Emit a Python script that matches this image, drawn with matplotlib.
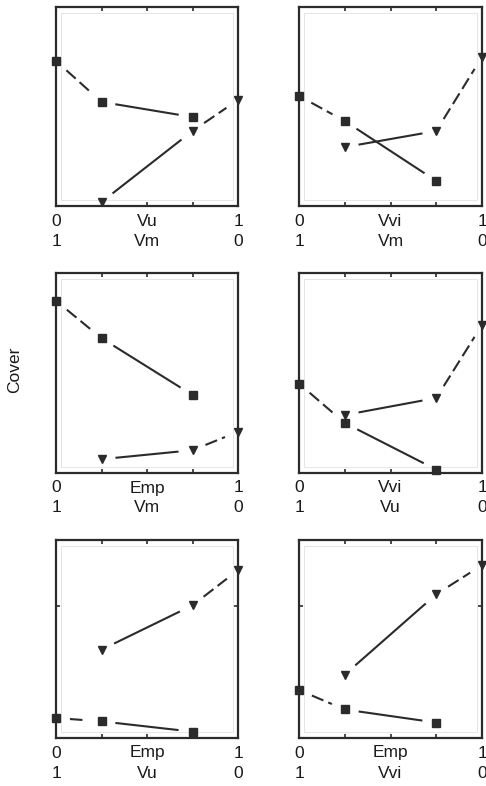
import numpy as np
import matplotlib.pyplot as plt
from matplotlib.patches import Rectangle

plt.rcParams["font.family"] = ["Liberation Sans", "DejaVu Sans"]

# proportions of the two components (x position of each mixture)
x_sq = [0.0, 0.25, 0.75]
x_tri = [0.25, 0.75, 1.0]

# cover of each component, per panel (scaled 0..1)
sq_vals = [
    [0.729, 0.523, 0.447],
    [0.553, 0.427, 0.126],
    [0.861, 0.674, 0.390],
    [0.447, 0.250, 0.017],
    [0.101, 0.084, 0.032],
    [0.242, 0.144, 0.078],
]
tri_vals = [
    [0.020, 0.377, 0.533],
    [0.296, 0.377, 0.749],
    [0.069, 0.114, 0.206],
    [0.290, 0.375, 0.740],
    [0.446, 0.670, 0.848],
    [0.320, 0.726, 0.873],
]
top_names = ["Vu", "Vvi", "Emp", "Vvi", "Emp", "Emp"]
bottom_names = ["Vm", "Vm", "Vm", "Vu", "Vu", "Vvi"]

W, H = 486, 786
cols = [(56, 238), (299, 482)]
rows = [(7, 206), (273, 473), (540, 738)]

ink = "#2b2b2b"
fig = plt.figure(figsize=(W / 100, H / 100), dpi=100)


def gapped_line(ax, xs, ys, wpx, hpx, gap=14):
    # connect neighbouring points, leaving a gap (in pixels) around each marker
    pts = np.column_stack([np.asarray(xs) * wpx, np.asarray(ys) * hpx])
    for i in range(len(pts) - 1):
        p0, p1 = pts[i], pts[i + 1]
        d = p1 - p0
        n = np.hypot(*d)
        if n <= 2 * gap:
            continue
        u = d / n
        a = (p0 + u * gap) / [wpx, hpx]
        b = (p1 - u * gap) / [wpx, hpx]
        outer = xs[i] == 0.0 or xs[i + 1] == 1.0
        ls = (0, (6, 2.5)) if outer else "-"
        ax.plot([a[0], b[0]], [a[1], b[1]], color=ink, lw=1.5,
                linestyle=ls, solid_capstyle="butt", dash_capstyle="butt")


for k in range(6):
    r, c = divmod(k, 2)
    l, rt = cols[c]
    t, b = rows[r]
    ax = fig.add_axes([l / W, 1 - b / H, (rt - l) / W, (b - t) / H])
    ax.set_xlim(0, 1)
    ax.set_ylim(0, 1)

    for s in ax.spines.values():
        s.set_linewidth(1.6)
        s.set_color(ink)
    ax.add_patch(Rectangle((0.025, 0.03), 0.95, 0.94, transform=ax.transAxes,
                           fill=False, ec="#e0e0e0", lw=0.6))

    ax.set_xticks([0.25, 0.5, 0.75])
    ax.set_xticklabels([])
    if r == 2:
        ax.set_yticks([0.667])
    else:
        ax.set_yticks([])
    ax.set_yticklabels([])
    ax.tick_params(direction="in", length=3, width=1.2, color=ink,
                   top=True, right=True)

    gapped_line(ax, x_sq, sq_vals[k], rt - l, b - t)
    gapped_line(ax, x_tri, tri_vals[k], rt - l, b - t)
    ax.plot(x_sq, sq_vals[k], "s", ms=5.5, color=ink, mec=ink,
            linestyle="none", clip_on=False, zorder=5)
    ax.plot(x_tri, tri_vals[k], "v", ms=6, color=ink, mec=ink,
            linestyle="none", clip_on=False, zorder=5)

    # two-row axis labels: top component rises 0->1, bottom falls 1->0
    for xv, txt1, txt2 in [(0, "0", "1"), (0.5, top_names[k], bottom_names[k]), (1, "1", "0")]:
        for txt, dy in [(txt1, -15), (txt2, -35)]:
            ax.annotate(txt, xy=(xv, 0), xycoords=("data", "axes fraction"),
                        xytext=(0, dy), textcoords="offset pixels",
                        ha="center", va="center", fontsize=12.5, color="#1a1a1a",
                        annotation_clip=False)

fig.text(15 / W, 1 - 370 / H, "Cover", rotation=90, ha="center", va="center",
         fontsize=12.5, color="#1a1a1a")

fig.savefig("out.png", dpi=100)
